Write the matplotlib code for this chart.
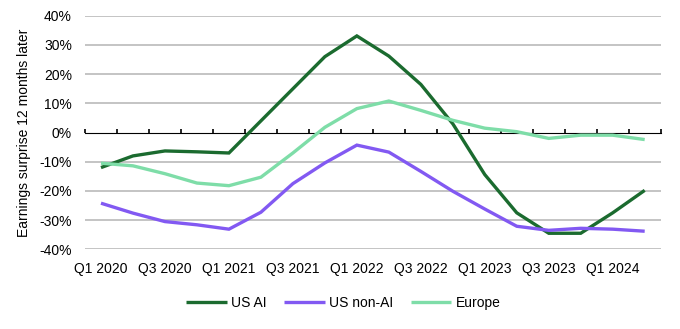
import matplotlib
matplotlib.use("Agg")
import matplotlib.pyplot as plt
import numpy as np

plt.rcParams['font.family'] = ['Liberation Sans', 'DejaVu Sans']

quarters = ["Q1 2020", "Q2 2020", "Q3 2020", "Q4 2020",
            "Q1 2021", "Q2 2021", "Q3 2021", "Q4 2021",
            "Q1 2022", "Q2 2022", "Q3 2022", "Q4 2022",
            "Q1 2023", "Q2 2023", "Q3 2023", "Q4 2023",
            "Q1 2024", "Q2 2024"]

us_ai = [-12.0, -8.0, -6.3, -6.6, -7.0, 4.0, 15.0, 26.0, 33.1, 26.2,
         16.5, 3.0, -14.4, -27.5, -34.5, -34.5, -27.5, -19.8]
us_non_ai = [-24.2, -27.6, -30.5, -31.6, -33.1, -27.3, -17.5, -10.4, -4.3, -6.7,
             -13.3, -20.1, -26.2, -32.1, -33.5, -32.8, -33.1, -33.8]
europe = [-10.5, -11.4, -14.1, -17.3, -18.2, -15.3, -7.0, 1.8, 8.2, 10.8,
          7.6, 4.2, 1.5, 0.3, -2.0, -0.9, -0.9, -2.4]

y_ticks = [-40, -30, -20, -10, 0, 10, 20, 30, 40]

series = [("US AI", us_ai, "#1B6B2F"),
          ("US non-AI", us_non_ai, "#8259F2"),
          ("Europe", europe, "#7EDDA8")]

fig = plt.figure(figsize=(6.8, 3.29), dpi=100)
ax = fig.add_axes([0.125, 0.2422, 0.8466, 0.7098])

x = np.arange(len(quarters))

# horizontal gridlines
for v in y_ticks:
    if v != 0:
        ax.axhline(v, color="#BFBFBF", lw=1.3, zorder=1)

for name, vals, col in series:
    ax.plot(x, vals, color=col, lw=2.4, label=name, zorder=3,
            solid_capstyle="butt", solid_joinstyle="miter")

ax.set_xlim(-0.5, len(quarters) - 0.5)
ax.set_ylim(-40, 40)

ax.set_yticks(y_ticks)
ax.set_yticklabels([f"{v}%" for v in y_ticks])
ax.set_xticks(x[::2])
ax.set_xticklabels(quarters[::2])
ax.tick_params(axis="both", length=0, labelsize=10, colors="black")
ax.tick_params(axis="y", pad=9.5)
ax.tick_params(axis="x", pad=9)

for s in ax.spines.values():
    s.set_visible(False)

# zero axis with boundary tick marks
zero_ax = ax.secondary_xaxis(0.5)
zero_ax.set_xticks(np.arange(-0.5, len(quarters), 1.0))
zero_ax.set_xticklabels([])
zero_ax.tick_params(axis="x", direction="out", length=3, width=1.2, color="black")
zero_ax.spines["bottom"].set_linewidth(1.7)
zero_ax.spines["bottom"].set_color("black")
zero_ax.spines["bottom"].set_zorder(2)

fig.text(0.035, 0.5966, "Earnings surprise 12 months later", rotation=90,
         ha="center", va="center", fontsize=10)

fig.legend(loc="center", bbox_to_anchor=(0.505, 1 - 302.7 / 329), ncol=3,
           frameon=False, fontsize=10, handlelength=2.9, handletextpad=0.3,
           columnspacing=1.3)

fig.savefig("out.png", dpi=100)
